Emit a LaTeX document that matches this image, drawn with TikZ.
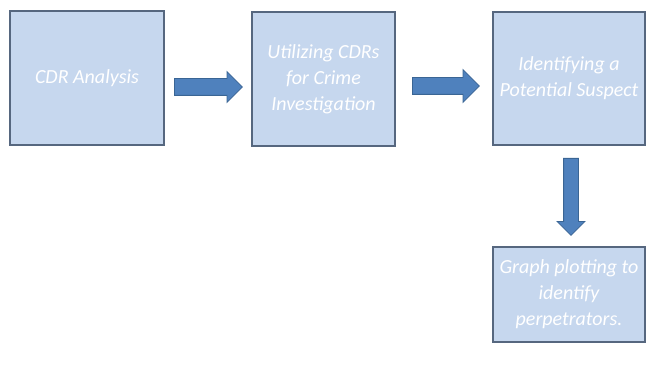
\documentclass[tikz,border=0pt]{standalone}
\usepackage{fontspec}
\setmainfont{Carlito}
\usetikzlibrary{shapes.arrows}
\definecolor{boxfill}{HTML}{C6D7EE}
\definecolor{boxline}{HTML}{56677F}
\definecolor{arrfill}{HTML}{4F81BD}
\definecolor{arrline}{HTML}{3A6594}
\tikzset{
  stepbox/.style={draw=boxline, line width=1.2pt, fill=boxfill, inner sep=0pt,
    text=white, align=center, font=\fontsize{20}{26}\selectfont\itshape},
  blockarrow/.style={single arrow, draw=arrline, line width=0.8pt, fill=arrfill,
    inner sep=8pt, single arrow head extend=7pt, anchor=tail},
}
\begin{document}
\begin{tikzpicture}[x=1pt,y=1pt]
\useasboundingbox (0,0) rectangle (647,372);
\node[stepbox, minimum width=154pt, minimum height=134pt] (b1) at (87,294) {CDR Analysis};
\node[stepbox, minimum width=143pt, minimum height=134pt] (b2) at (323.5,293) {Utilizing CDRs\\for Crime\\Investigation};
\node[stepbox, minimum width=152pt, minimum height=133pt] (b3) at (569,293.5) {Identifying a\\Potential Suspect};
\node[stepbox, minimum width=152pt, minimum height=95pt] (b4) at (569,77.5) {Graph plotting to\\identify\\perpetrators.};
\node[blockarrow, minimum height=68pt] (a1) at (174,285) {};
\node[blockarrow, minimum height=67pt, single arrow head extend=8pt] (a2) at (412,286) {};
\node[blockarrow, shape border rotate=270, minimum height=77pt, inner sep=7pt, single arrow head extend=6.5pt] (a3) at (571,214) {};
\end{tikzpicture}
\end{document}
